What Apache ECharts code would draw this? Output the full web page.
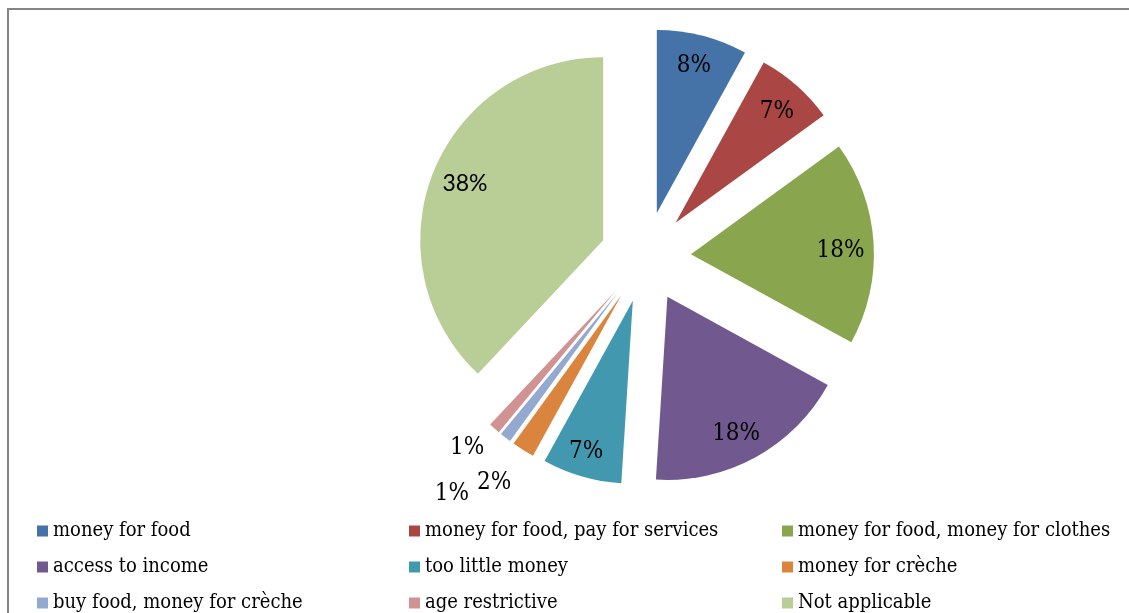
<!DOCTYPE html>
<html>
<head>
<meta charset="utf-8">
<script src="https://cdn.jsdelivr.net/npm/echarts@6/dist/echarts.min.js"></script>
<style>
  html, body { margin: 0; padding: 0; background: #fff; }
  #chart { width: 1129px; height: 613px; }
</style>
</head>
<body>
<div id="chart"></div>
<script>
// Categories and their shares (percent)
const categories = [
  'money for food',
  'money for food, pay for services',
  'money for food, money for clothes',
  'access to income',
  'too little money',
  'money for crèche',
  'buy food, money for crèche',
  'age restrictive',
  'Not applicable'
];
const shares = [8, 7, 18, 18, 7, 2, 1, 1, 38];
const colors = ['#4572A7', '#AA4643', '#89A54E', '#71588F', '#4198AF',
                '#DB843D', '#93A9CF', '#D19392', '#B9CD96'];

// Legend columns (indexes into categories)
const legendColumns = [[0, 3, 6], [1, 4, 7], [2, 5, 8]];

const serif = "'DejaVu Serif Condensed', 'DejaVu Serif', serif";

// nudges for the percentage labels; the thin slices carry theirs outside the pie
const labelShift = {
  0: [-1, 1], 1: [0, 4], 2: [-3, 6], 3: [-5, 3], 4: [-4, 4],
  5: [-45, 58], 6: [-72, 80], 7: [-47, 42], 8: [4, 0]
};

const CENTER = [645.5, 257];
const R = 183;
const OFFSET = 45.5;

const sliceData = categories.map((name, i) => ({
  name,
  value: shares[i],
  selected: true,
  itemStyle: { color: colors[i] },
  select: { itemStyle: { color: colors[i] } }
}));

const labelData = categories.map((name, i) => ({
  name,
  value: shares[i],
  selected: true,
  label: i === 8 ? { fontFamily: "Lato, 'Open Sans', sans-serif", fontSize: 23 } : {}
}));

const chart = echarts.init(document.getElementById('chart'), null, { renderer: 'canvas' });

chart.setOption({
  backgroundColor: '#ffffff',
  animation: false,
  color: colors,
  graphic: [{
    type: 'rect',
    shape: { x: 8, y: 9, width: 1300, height: 800 },
    style: { fill: 'none', stroke: '#858585', lineWidth: 2 },
    silent: true
  }],
  legend: legendColumns.map((col, c) => ({
    orient: 'vertical',
    left: [32, 404, 777][c],
    top: 516,
    height: 140,
    itemWidth: 11,
    itemHeight: 11,
    itemGap: 16,
    icon: 'rect',
    selectedMode: false,
    data: col.map(i => categories[i]),
    textStyle: { fontFamily: serif, fontSize: 20, color: '#000', lineHeight: 20 }
  })),
  series: [
    {
      type: 'pie',
      center: CENTER,
      radius: [0, R],
      startAngle: 90,
      clockwise: true,
      selectedMode: 'multiple',
      selectedOffset: OFFSET,
      silent: true,
      emphasis: { disabled: true },
      label: { show: false },
      labelLine: { show: false },
      data: sliceData
    },
    {
      // transparent ring that carries the percentage labels
      type: 'pie',
      center: CENTER,
      radius: [117, R],
      startAngle: 90,
      clockwise: true,
      selectedMode: 'multiple',
      selectedOffset: OFFSET,
      silent: true,
      emphasis: { disabled: true },
      itemStyle: { color: 'rgba(0,0,0,0)' },
      select: { itemStyle: { color: 'rgba(0,0,0,0)' } },
      labelLine: { show: false },
      label: {
        show: true,
        position: 'inside',
        formatter: '{c}%',
        fontFamily: serif,
        fontSize: 24,
        color: '#000'
      },
      labelLayout: function (params) {
        const s = labelShift[params.dataIndex] || [0, 0];
        return { dx: s[0], dy: s[1] };
      },
      data: labelData
    }
  ]
});
</script>
</body>
</html>
